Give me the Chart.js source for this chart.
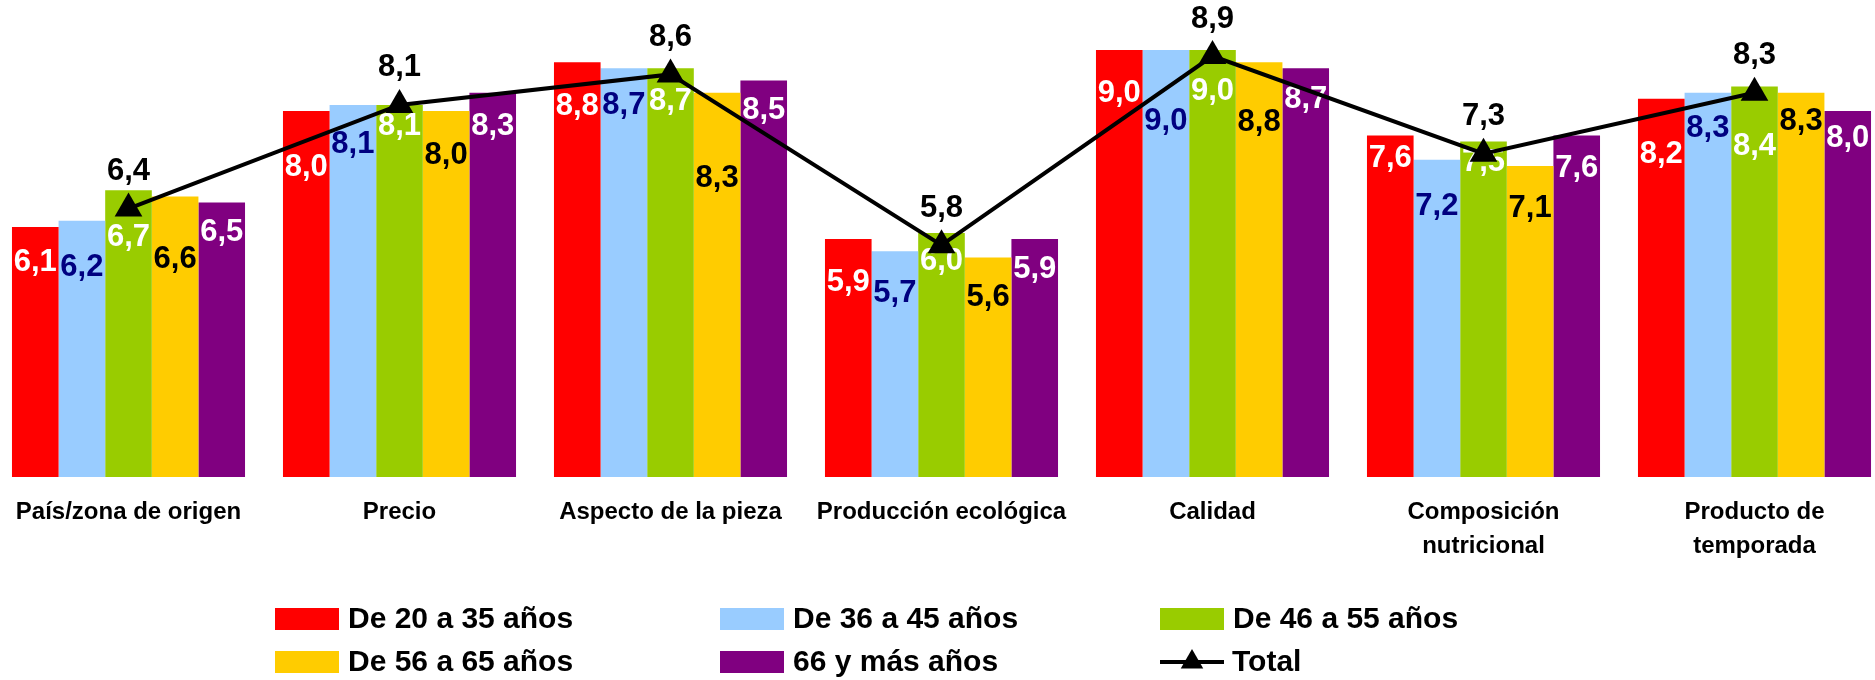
<!DOCTYPE html>
<html lang="es">
<head>
<meta charset="utf-8">
<title>Valoración de atributos por edad</title>
<script src="https://cdn.jsdelivr.net/npm/chart.js@4/dist/chart.umd.min.js"></script>
<style>
  html, body { margin: 0; padding: 0; background: #ffffff; overflow: hidden; }
  body { width: 1875px; height: 680px; position: relative; }
  #wrap { position: absolute; left: -7px; top: -11px; width: 1897px; height: 691px; }
</style>
</head>
<body>
<div id="wrap"><canvas id="chart"></canvas></div>
<script>
// Categorías valoradas
const categories = [
  'País/zona de origen',
  'Precio',
  'Aspecto de la pieza',
  'Producción ecológica',
  'Calidad',
  ['Composición', 'nutricional'],
  ['Producto de', 'temporada']
];

// Grupos de edad
const seriesNames = ['De 20 a 35 años', 'De 36 a 45 años', 'De 46 a 55 años', 'De 56 a 65 años', '66 y más años'];
const totalName = 'Total';

// Valoración media por grupo de edad
const age20to35 = [6.1, 8.0, 8.8, 5.9, 9.0, 7.6, 8.2];
const age36to45 = [6.2, 8.1, 8.7, 5.7, 9.0, 7.2, 8.3];
const age46to55 = [6.7, 8.1, 8.7, 6.0, 9.0, 7.5, 8.4];
const age56to65 = [6.6, 8.0, 8.3, 5.6, 8.8, 7.1, 8.3];
const age66plus = [6.5, 8.3, 8.5, 5.9, 8.7, 7.6, 8.0];
const totalValues = [6.4, 8.1, 8.6, 5.8, 8.9, 7.3, 8.3];

// Escala de valores
const axisMin = 2;
const axisMax = 10;

// Estilo de cada serie
const barColors = ['#FF0000', '#99CCFF', '#99CC00', '#FFCC00', '#800080'];
const labelColors = ['#FFFFFF', '#000080', '#FFFFFF', '#000000', '#FFFFFF'];

// Desplazamiento de cada etiqueta bajo el extremo de su barra (px), por categoría y serie
const labelDrop = [
  [36, 47, 47, 63, 30],
  [56, 40, 22, 44, 34],
  [44, 37, 33, 86, 30],
  [43, 42, 28, 40, 30],
  [43, 71, 41, 60, 31],
  [23, 47, 21, 43, 33],
  [56, 36, 60, 29, 27]
];

const FONT = '"Liberation Sans", Arial, Helvetica, sans-serif';
const fmt = v => v.toFixed(1).replace('.', ',');

const barSeries = [age20to35, age36to45, age46to55, age56to65, age66plus];

const datasets = barSeries.map((vals, i) => ({
  type: 'bar',
  label: seriesNames[i],
  data: vals,
  backgroundColor: barColors[i],
  borderWidth: 0,
  order: 1
}));

datasets.push({
  type: 'line',
  label: totalName,
  data: totalValues,
  borderColor: '#000000',
  borderWidth: 4,
  tension: 0,
  pointStyle: 'triangle',
  pointRadius: 16,
  pointHoverRadius: 16,
  pointBackgroundColor: '#000000',
  pointBorderColor: '#000000',
  pointBorderWidth: 0,
  order: 0
});

// Etiquetas de valor de las barras (bajo la línea) y de la línea Total (encima)
const valueLabels = {
  id: 'valueLabels',
  beforeDatasetDraw(chart, args) {
    if (chart.data.datasets[args.index].type !== 'line') return;
    const ctx = chart.ctx;
    ctx.save();
    ctx.font = 'bold 31px ' + FONT;
    ctx.textAlign = 'center';
    ctx.textBaseline = 'middle';
    chart.data.datasets.forEach((ds, di) => {
      if (ds.type !== 'bar') return;
      const meta = chart.getDatasetMeta(di);
      ctx.fillStyle = labelColors[di];
      meta.data.forEach((bar, ci) => {
        ctx.fillText(fmt(ds.data[ci]), bar.x, bar.y + labelDrop[ci][di]);
      });
    });
    ctx.restore();
  },
  afterDatasetsDraw(chart) {
    const ctx = chart.ctx;
    ctx.save();
    ctx.font = 'bold 31px ' + FONT;
    ctx.textAlign = 'center';
    ctx.textBaseline = 'middle';
    ctx.fillStyle = '#000000';
    chart.data.datasets.forEach((ds, di) => {
      if (ds.type !== 'line') return;
      chart.getDatasetMeta(di).data.forEach((pt, ci) => {
        ctx.fillText(fmt(ds.data[ci]), pt.x, pt.y - 37);
      });
    });
    ctx.restore();
  }
};

// Leyenda en tres columnas bajo el gráfico
const gridLegend = {
  id: 'gridLegend',
  afterDraw(chart) {
    const ctx = chart.ctx;
    const colX = [282, 727, 1167];
    const rowY = [630, 673];
    const boxW = 64, boxH = 22;
    ctx.save();
    ctx.font = 'bold 30px ' + FONT;
    ctx.textBaseline = 'middle';
    ctx.textAlign = 'left';
    chart.data.datasets.forEach((ds, i) => {
      const x = colX[i % 3];
      const y = rowY[Math.floor(i / 3)];
      if (ds.type === 'bar') {
        ctx.fillStyle = ds.backgroundColor;
        ctx.fillRect(x, y - boxH / 2, boxW, boxH);
      } else {
        ctx.strokeStyle = ds.borderColor;
        ctx.lineWidth = 4;
        ctx.beginPath();
        ctx.moveTo(x, y);
        ctx.lineTo(x + 64, y);
        ctx.stroke();
        ctx.fillStyle = ds.pointBackgroundColor;
        const r = 13, cx = x + 32;
        ctx.beginPath();
        ctx.moveTo(cx, y - r);
        ctx.lineTo(cx + r * 0.866, y + r * 0.5);
        ctx.lineTo(cx - r * 0.866, y + r * 0.5);
        ctx.closePath();
        ctx.fill();
      }
      ctx.fillStyle = '#000000';
      ctx.fillText(ds.label, x + (ds.type === 'bar' ? boxW + 9 : 72), y + 1);
    });
    ctx.restore();
  }
};

new Chart(document.getElementById('chart'), {
  data: { labels: categories, datasets },
  options: {
    responsive: true,
    maintainAspectRatio: false,
    devicePixelRatio: 1,
    animation: false,
    layout: { padding: 0, autoPadding: false },
    datasets: {
      bar: { categoryPercentage: 0.86, barPercentage: 1.0 }
    },
    plugins: {
      legend: { display: false },
      tooltip: { enabled: false },
      title: { display: false }
    },
    scales: {
      x: {
        offset: true,
        grid: { display: false, drawTicks: false },
        border: { display: false },
        ticks: {
          color: '#000000',
          font: { family: FONT, size: 24, weight: 'bold', lineHeight: 1.4 },
          padding: 19,
          autoSkip: false,
          maxRotation: 0,
          minRotation: 0
        },
        afterFit(scale) {
          scale.height = 203;
          scale.paddingLeft = 0;
          scale.paddingRight = 0;
        }
      },
      y: {
        display: false,
        min: axisMin,
        max: axisMax
      }
    }
  },
  plugins: [valueLabels, gridLegend]
});
</script>
</body>
</html>
